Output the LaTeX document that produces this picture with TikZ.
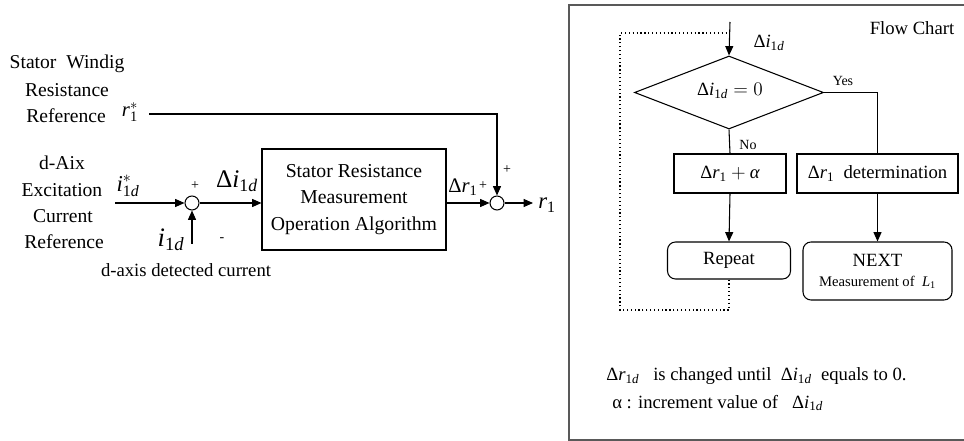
\documentclass[tikz,border=0pt]{standalone}
\usepackage{fontspec}
\usepackage{amsmath}
\setmainfont{Liberation Serif}
\usetikzlibrary{arrows.meta,shapes.geometric}
\newcommand\itx[1]{\text{\itshape #1}}
\tikzset{
  lbl/.style={inner sep=0pt, font=\fontsize{14}{19}\selectfont},
  blbl/.style={inner sep=0pt, font=\fontsize{14.7}{19}\selectfont},
  sml/.style={inner sep=0pt, font=\fontsize{10.5}{12}\selectfont},
  mth/.style={inner sep=0pt, font=\fontsize{15.5}{18}\selectfont},
  blk/.style={draw, line width=0.8pt, inner sep=0pt, align=center, font=\fontsize{14}{20}\selectfont},
  rblk/.style={blk, rounded corners=6pt},
  sumc/.style={draw, circle, minimum size=10.5pt, inner sep=0pt, line width=0.8pt},
  arr/.style={-{Triangle[length=7pt,width=6pt]}, line width=0.8pt},
  ln/.style={line width=0.8pt},
  dotln/.style={dotted, line width=0.9pt},
}
\begin{document}
\begin{tikzpicture}[x=0.75pt, y=-0.75pt]
\useasboundingbox (0,0) rectangle (964,441);
% ---------- left block diagram ----------
\node[blbl] (t1) at (67,64) {Stator\ \ Windig};
\node[blbl] (t2) at (67,90) {Resistance};
\node[blbl] (t3) at (66,116) {Reference};
\node[mth] (rs) at (130,112) {$\itx{r}_{\text{1}}^{*}$};
\node[blbl] (u1) at (62,163) {d-Aix};
\node[blbl] (u2) at (62,190) {Excitation};
\node[blbl] (u3) at (63,216) {Current};
\node[blbl] (u4) at (64,242) {Reference};
\node[mth, font=\fontsize{17}{18}\selectfont] (iref) at (128,186) {$\itx{i}^{*}_{\text{1\itshape d}}$};

\node[sumc] (s1) at (192,203) {};
\coordinate (in1) at (115,203);
\coordinate (in2) at (192,244);
\draw[arr] (in1) -- (s1.west);
\draw[arr] (in2) -- (s1.south);
\node[sml] (p1) at (195,186) {+};
\node[sml] (m1) at (222,240) {-};
\node[mth, font=\fontsize{20}{20}\selectfont] (im) at (171,240) {$\itx{i}_{\text{1\itshape d}}$};
\node[lbl] (det) at (186,270) {d-axis detected current};

\node[blk, font=\fontsize{14.8}{20}\selectfont, minimum width=138pt, minimum height=75.75pt] (alg) at (354,199.5)
  {Stator Resistance\\Measurement\\Operation Algorithm};
\draw[arr] (s1.east) -- (s1.east -| alg.west);
\node[mth, font=\fontsize{19}{20}\selectfont] (di) at (237,181) {$\text{Δ}\itx{i}_{\text{1\itshape d}}$};

\node[sumc] (s2) at (497,203) {};
\coordinate (rsa) at (149,114);
\draw[arr] (rsa) -| (s2.north);
\draw[arr] (alg.east |- s2) -- (s2.west);
\node[mth] (dr) at (463,187) {$\text{Δ}\itx{r}_{\text{1}}$};
\node[sml] (p2) at (483,186) {+};
\node[sml] (p3) at (507,170) {+};
\coordinate (out) at (533,203);
\draw[arr] (s2.east) -- (out);
\node[mth, font=\fontsize{17}{20}\selectfont] (r1) at (547,205) {$\itx{r}_{\text{1}}$};

% ---------- right flow chart ----------
\draw[line width=1.1pt, black!65] (964,5) -- (569,5) -- (569,440) -- (964,440);
\node[lbl] (fc) at (912,28) {Flow Chart};

\node[draw, diamond, line width=0.8pt, minimum width=141.75pt, minimum height=54.75pt, inner sep=0pt] (dia) at (729,92.5) {};
\node[lbl] (dtxt) at (730,91) {$\text{Δ}\itx{i}_{\text{1\itshape d}} = 0$};
\coordinate (fin) at (730,22);
\draw[arr] (fin) -- (dia.north);
\node[lbl] (dlab) at (769,43) {$\text{Δ}\itx{i}_{\text{1\itshape d}}$};

\node[blk, minimum width=84pt, minimum height=29.25pt] (b1) at (730,173.5) {$\text{Δ}\itx{r}_{\text{1}} + \itx{α}$};
\node[blk, minimum width=120.75pt, minimum height=29.25pt] (b2) at (877.5,173.5) {$\text{Δ}\itx{r}_{\text{1}}$\ \ determination};
\node[rblk, minimum width=92.25pt, minimum height=27.75pt] (rep) at (729,260.5) {Repeat};
\node[rblk, minimum width=111.75pt, minimum height=43.5pt, font=\fontsize{14}{17}\selectfont] (nxt) at (877.5,271)
  {NEXT\\[-2pt]{\fontsize{11}{13}\selectfont Measurement of\ \ $\itx{L}_{\text{1}}$}};

\draw[ln] (dia.east) -| (b2.north);
\draw[ln] (dia.south) -- (b1.north);
\node[sml] (yes) at (843,81) {Yes};
\node[sml] (no) at (748,145) {No};
\draw[arr] (b1.south) -- (rep.north);
\draw[arr] (b2.south) -- (nxt.north);

\coordinate (lp1) at (620,310);
\coordinate (lp2) at (620,33);
\draw[dotln] (rep.south) |- (lp1) -- (lp2) -- (lp2 -| fin);

\node[lbl, anchor=west] (n1) at (606,376) {$\text{Δ}\itx{r}_{\text{1\itshape d}}$\ \ \ is changed until\ \ $\text{Δ}\itx{i}_{\text{1\itshape d}}$\ \ equals to 0.};
\node[lbl, anchor=west] (n2) at (612,403) {α : increment value of\ \ \ $\text{Δ}\itx{i}_{\text{1\itshape d}}$};
\end{tikzpicture}
\end{document}
